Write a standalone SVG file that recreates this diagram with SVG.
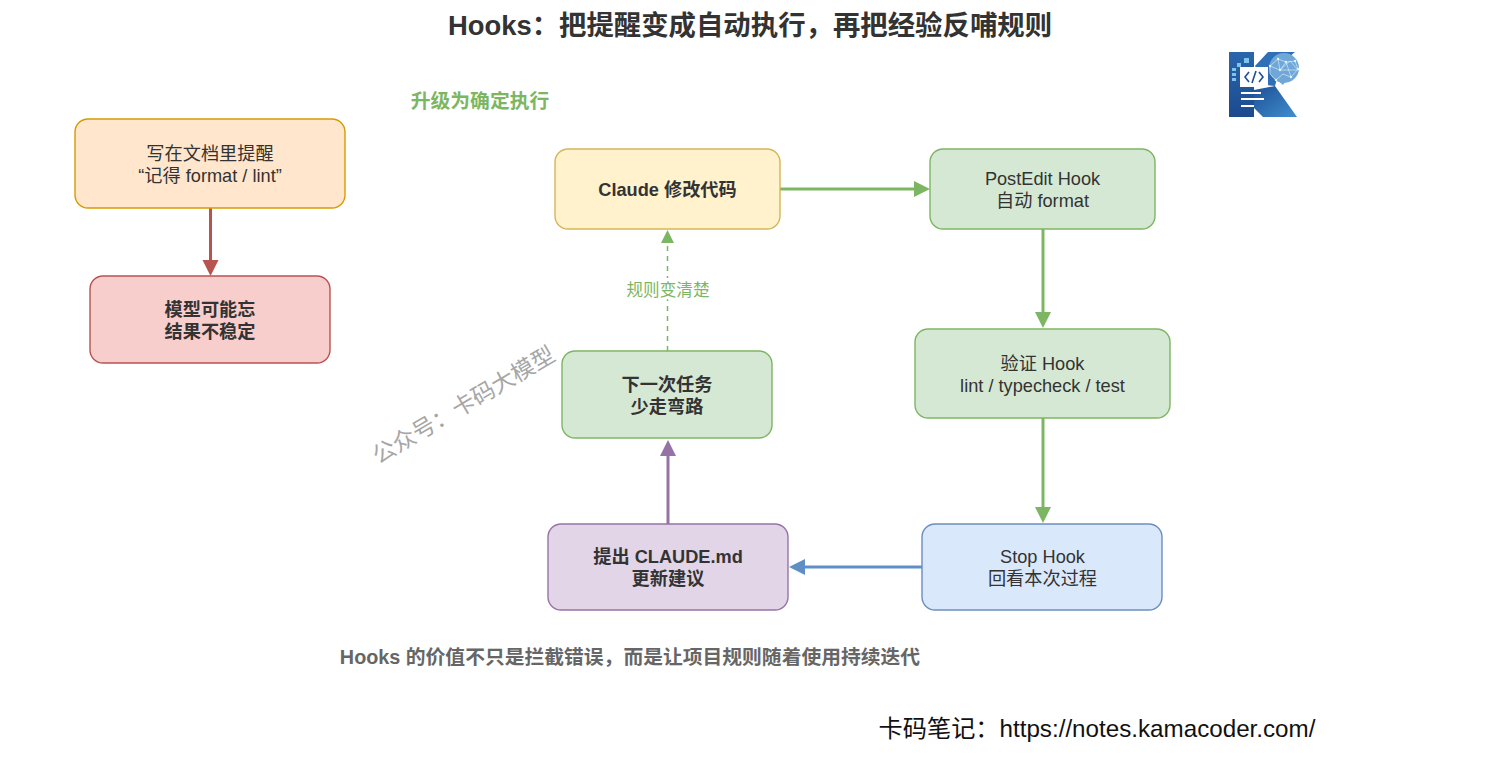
<svg xmlns="http://www.w3.org/2000/svg" width="1502" height="760" viewBox="0 0 1502 760">
<style>
text{font-family:"Liberation Sans","Noto Sans CJK SC",sans-serif;text-anchor:middle;fill:#333}
.n{font-size:18.2px}
.b{font-size:18.2px;font-weight:bold}
.box{stroke-width:1.4}
.orange{fill:#ffe6cc;stroke:#d79b00}
.red{fill:#f8cecc;stroke:#b85450}
.yellow{fill:#fff2cc;stroke:#d6b656}
.green{fill:#d5e8d4;stroke:#7db662}
.blue{fill:#dae8fc;stroke:#6c8ebf}
.purple{fill:#e1d5e7;stroke:#9673a6}
.c{fill:none;stroke-width:3}
.w{stroke:#fff;stroke-width:2}
.nw{stroke:#e4f1fb;stroke-width:.6;fill:none}
.sq{fill:#7fc4ea}
</style>
<defs>
<linearGradient id="kg" x1="0" y1="0" x2="1" y2="1"><stop offset="0" stop-color="#1f4f96"/><stop offset="1" stop-color="#3f8fcf"/></linearGradient>
<linearGradient id="kb" x1="0" y1="0" x2="0" y2="1"><stop offset="0" stop-color="#2a66ad"/><stop offset="1" stop-color="#1c4a8e"/></linearGradient>
</defs>
<rect width="1502" height="760" fill="#fff"/>
<text x="750" y="35" font-size="27.4" font-weight="bold">Hooks：把提醒变成自动执行，再把经验反哺规则</text>
<text x="480" y="108" font-size="19.8" font-weight="bold" style="fill:#7db662">升级为确定执行</text>

<g id="logo">
<path d="M1229 52h25v65h-25z" fill="url(#kb)"/>
<path d="M1254 90l21-4 22 31h-34l-9-9z" fill="url(#kg)"/>
<path d="M1255 66l13-14h27l-14 12-6 22-9-1-7-12z" fill="#2f6fb8"/>
<circle cx="1284" cy="68" r="15" fill="#6fa8d8"/>
<path d="M1277 80l6 5 4-6z" fill="#6fa8d8"/>
<path class="nw" d="M1270 66l8-7 8 3 9-1 3 8-7 8-8-3-7 6-6-6zM1278 59l2 11 6-8 5 15M1280 70l-10-4M1280 70l10-9 8 9-18 0"/>
<g fill="#e4f1fb"><circle cx="1278" cy="59" r="1.2"/><circle cx="1286" cy="62" r="1.2"/><circle cx="1295" cy="61" r="1.2"/><circle cx="1298" cy="69" r="1.2"/><circle cx="1291" cy="77" r="1.2"/><circle cx="1280" cy="70" r="1.2"/><circle cx="1270" cy="66" r="1.2"/><circle cx="1276" cy="80" r="1.2"/></g>
<rect x="1240" y="67" width="28" height="20" fill="#fff"/>
<path d="M1249 72l-4 5 4 5M1259 72l4 5-4 5M1256 71l-4 12" fill="none" stroke="#1f4f96" stroke-width="1.6"/>
<path class="w" d="M1241 93h20M1241 99h23M1241 106h13"/>
<path class="sq" d="M1232 68h4v3h-4zM1232 73h4v3h-4zM1232 78h4v3h-4zM1237 63h4v4h-4zM1244 58h5v5h-5z"/>
</g>

<g id="connectors">
<path class="c" stroke="#b85450" d="M210.500 208V262"/><path fill="#b85450" d="M202.500 260h16l-8 16z"/>
<path class="c" stroke="#7db662" d="M780 189H916"/><path fill="#7db662" d="M914 181v16l16-8z"/>
<path class="c" stroke="#7db662" d="M1043 229V314"/><path fill="#7db662" d="M1035 312h16l-8 16z"/>
<path class="c" stroke="#7db662" d="M1043 418V509"/><path fill="#7db662" d="M1035 507h16l-8 16z"/>
<path class="c" stroke="#5f8fc6" d="M922 567H804"/><path fill="#5f8fc6" d="M805 559v16l-16-8z"/>
<path class="c" stroke="#9673a6" d="M668 524V454"/><path fill="#9673a6" d="M660 456h16l-8-16z"/>
<path fill="none" stroke="#7db662" stroke-width="1.500" stroke-dasharray="5 5" d="M667.500 351V242"/><path fill="#7db662" d="M661 243h13l-6.500-13z"/>
</g>

<text id="edge-label" x="668" y="295.500" font-size="16.6" style="fill:#7db662;stroke:#fff;stroke-width:6px;paint-order:stroke">规则变清楚</text>

<g id="node-doc"><rect class="box orange" x="75" y="119" width="270" height="89" rx="13"/><text class="n" x="210" y="159.500">写在文档里提醒</text><text class="n" x="210" y="181.500">“记得 format / lint”</text></g>
<g id="node-forget"><rect class="box red" x="90" y="276" width="240" height="87" rx="13"/><text class="b" x="210" y="315.500">模型可能忘</text><text class="b" x="210" y="337.500">结果不稳定</text></g>
<g id="node-claude"><rect class="box yellow" x="555" y="149" width="225" height="80" rx="13"/><text class="b" x="667.500" y="196">Claude 修改代码</text></g>
<g id="node-postedit"><rect class="box green" x="930" y="149" width="225" height="80" rx="13"/><text class="n" x="1042.500" y="184.500">PostEdit Hook</text><text class="n" x="1042.500" y="206.500">自动 format</text></g>
<g id="node-verify"><rect class="box green" x="915" y="329" width="255" height="89" rx="13"/><text class="n" x="1042.500" y="369.500">验证 Hook</text><text class="n" x="1042.500" y="391.500">lint / typecheck / test</text></g>
<g id="node-stop"><rect class="box blue" x="922" y="524" width="240" height="86" rx="13"/><text class="n" x="1042.500" y="562.500">Stop Hook</text><text class="n" x="1042.500" y="584.500">回看本次过程</text></g>
<g id="node-propose"><rect class="box purple" x="548" y="524" width="240" height="86" rx="13"/><text class="b" x="668" y="562.500">提出 CLAUDE.md</text><text class="b" x="668" y="584.500">更新建议</text></g>
<g id="node-next"><rect class="box green" x="562" y="351" width="210" height="87" rx="13"/><text class="b" x="667" y="390.500">下一次任务</text><text class="b" x="667" y="412.500">少走弯路</text></g>

<text x="630" y="663.500" font-size="19.8" font-weight="bold" style="fill:#666">Hooks 的价值不只是拦截错误，而是让项目规则随着使用持续迭代</text>
<text transform="translate(463.500 405) rotate(-30.500)" font-size="23" style="fill:#a6a6a6" y="8">公众号：卡码大模型</text>
<text x="1097" y="736.500" font-size="24.2" style="fill:#111">卡码笔记：https://notes.kamacoder.com/</text>
</svg>
